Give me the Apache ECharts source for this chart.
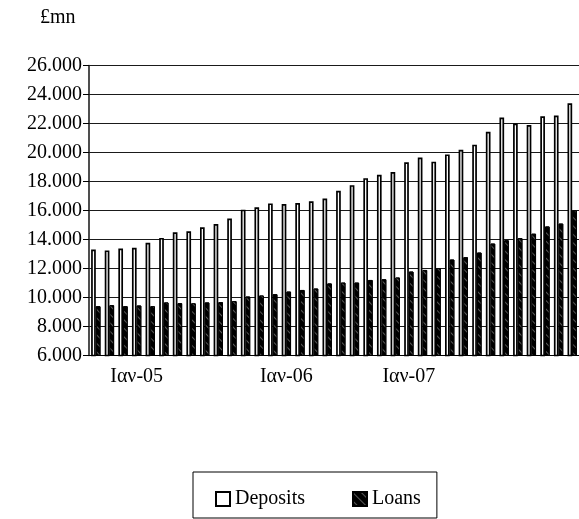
<!DOCTYPE html>
<html>
<head>
<meta charset="utf-8">
<script src="https://cdn.jsdelivr.net/npm/echarts@6/dist/echarts.min.js"></script>
<style>html,body{margin:0;padding:0;background:#fff}#c{width:579px;height:519px}</style>
</head>
<body>
<div id="c"></div>
<script>
// 36 periods; only three carry a visible label in the original chart
var categories = ['','','','Ιαν-05','','','','','','','','','','','Ιαν-06','','','','','','','','','Ιαν-07','','','','','','','','','','','',''];
var deposits = [13310,13250,13380,13430,13770,14110,14500,14570,14850,15070,15440,16060,16220,16490,16450,16510,16630,16830,17360,17750,18230,18460,18660,19330,19650,19370,19870,20190,20540,21430,22410,22000,21900,22500,22550,23400];
var loans = [9400,9470,9400,9450,9400,9660,9610,9600,9660,9680,9750,10070,10140,10230,10410,10520,10620,10970,11030,11030,11210,11260,11380,11790,11900,12020,12620,12780,13100,13720,13950,14100,14400,14900,15100,16000];
var yTicks = [6000, 26000, 2000];

function fmt(v){ return String(v/1000) + '.000'; }
var serif = '"Liberation Serif", "DejaVu Serif", serif';
var chart = echarts.init(document.getElementById('c'));
chart.setOption({
  animation: false,
  textStyle: { fontFamily: serif },
  graphic: [{ type: 'text', left: 40, top: 8, style: { text: '£mn', font: '20px ' + serif, fill: '#000' } }],
  grid: { left: 89, right: 0, top: 65.5, bottom: 163.5 },
  xAxis: {
    type: 'category', data: categories,
    axisLine: { lineStyle: { color: '#000', width: 1 } },
    axisTick: { show: false },
    axisLabel: { interval: 0, color: '#000', fontSize: 20, fontFamily: serif, margin: 11 }
  },
  yAxis: {
    type: 'value', min: yTicks[0], max: yTicks[1], interval: yTicks[2],
    axisLine: { show: true, lineStyle: { color: '#222', width: 1.6 } },
    axisTick: { show: true, inside: false, length: 6, lineStyle: { color: '#000' } },
    splitLine: { lineStyle: { color: '#1a1a1a', width: 1.2 } },
    axisLabel: { formatter: fmt, color: '#000', fontSize: 20, fontFamily: serif, margin: 7 }
  },
  legend: {
    left: 193, top: 472, itemWidth: 14, itemHeight: 14, itemGap: 47, icon: 'rect',
    borderColor: '#000', borderWidth: 1, padding: [17, 16, 9, 22],
    textStyle: { fontSize: 20, fontFamily: serif, color: '#000' },
    data: ['Deposits', 'Loans']
  },
  series: [
    { name: 'Deposits', type: 'bar', data: deposits, barGap: '0%', barCategoryGap: '31%',
      itemStyle: { color: '#fff', borderColor: '#000', borderWidth: 1.7 } },
    { name: 'Loans', type: 'bar', data: loans,
      itemStyle: { color: '#000', borderColor: '#000', borderWidth: 1,
        decal: { symbol: 'rect', color: 'rgba(255,255,255,0.35)', dashArrayX: [1, 0], dashArrayY: [1, 5], rotation: Math.PI / 4, symbolSize: 1 } } }
  ]
});
</script>
</body>
</html>
